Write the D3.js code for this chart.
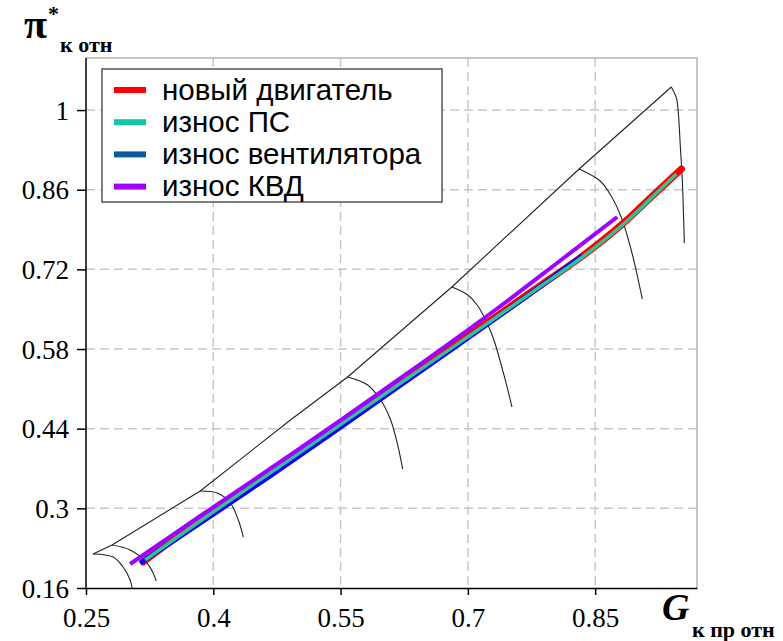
<!DOCTYPE html>
<html>
<head>
<meta charset="utf-8">
<script src="https://cdn.jsdelivr.net/npm/d3@7"></script>
<style>
  html, body { margin: 0; padding: 0; background: #fff; }
  svg { display: block; }
</style>
</head>
<body>
<svg id="chart" width="783" height="641"></svg>
<script>
// Axis ticks
const xTicks = [0.25, 0.4, 0.55, 0.7, 0.85];
const yTicks = [0.16, 0.3, 0.44, 0.58, 0.72, 0.86, 1];

// Compressor map: surge boundary
const surgeX = [0.2583, 0.2807, 0.3846, 0.4909, 0.5583, 0.6811, 0.8311, 0.9397];
const surgeY = [0.2198, 0.2356, 0.3305, 0.4553, 0.5308, 0.6890, 0.8964, 1.0405];

// Constant-speed lines
const speedLinesX = [
  [0.2583, 0.2819, 0.2937, 0.3020, 0.3043],
  [0.2807, 0.3020, 0.3220, 0.3291, 0.3327],
  [0.3846, 0.4047, 0.4201, 0.4295, 0.4354],
  [0.5583, 0.5819, 0.5972, 0.6090, 0.6173, 0.6232],
  [0.6811, 0.7000, 0.7118, 0.7236, 0.7307, 0.7425, 0.7520],
  [0.8311, 0.8559, 0.8689, 0.8807, 0.8925, 0.9008, 0.9055],
  [0.9397, 0.9457, 0.9480, 0.9504, 0.9527, 0.9539, 0.9551]
];
const speedLinesY = [
  [0.2198, 0.2145, 0.1969, 0.1741, 0.1600],
  [0.2356, 0.2268, 0.2039, 0.1864, 0.1723],
  [0.3305, 0.3270, 0.3094, 0.2795, 0.2496],
  [0.5308, 0.5168, 0.4904, 0.4553, 0.4113, 0.3691],
  [0.6890, 0.6749, 0.6556, 0.6222, 0.5959, 0.5344, 0.4781],
  [0.8964, 0.8753, 0.8489, 0.8120, 0.7540, 0.7013, 0.6679],
  [1.0405, 1.0212, 0.9948, 0.9350, 0.8771, 0.8243, 0.7663]
];

// Operating lines
const seriesNames = ["новый двигатель", "износ ПС", "износ вентилятора", "износ КВД"];
const newEngineX = [0.3173, 0.3846, 0.5028, 0.6209, 0.7390, 0.7862, 0.8335, 0.8807, 0.9161, 0.9516];
const newEngineY = [0.2057, 0.2795, 0.4008, 0.5220, 0.6433, 0.6925, 0.7417, 0.7980, 0.8472, 0.8964];
const wearPsX = [0.3197, 0.3846, 0.5028, 0.6209, 0.7390, 0.7862, 0.8335, 0.8807, 0.9161, 0.9457];
const wearPsY = [0.2092, 0.2778, 0.3990, 0.5203, 0.6416, 0.6908, 0.7400, 0.7962, 0.8454, 0.8876];
const wearFanX = [0.3138, 0.3846, 0.5028, 0.6209, 0.7484, 0.8346];
const wearFanY = [0.2039, 0.2742, 0.3937, 0.5168, 0.6503, 0.7435];
const wearHpcX = [0.3020, 0.3846, 0.5028, 0.6209, 0.7354, 0.8098, 0.8760];
const wearHpcY = [0.2022, 0.2865, 0.4061, 0.5291, 0.6521, 0.7365, 0.8120];

const lineColors = ["#ff0000", "#2ec49a", "#0000ff", "#a000ff"];
const legendColors = ["#ff0000", "#12c8a2", "#0b5aa0", "#a000ff"];
const lineWidths = [7, 3.5, 5, 4];

const svg = d3.select("#chart");
const plotLeft = 86, plotRight = 697, plotTop = 58, plotBottom = 588;

const x = d3.scaleLinear().domain([0.25, 0.97]).range([plotLeft, plotRight]);
const y = d3.scaleLinear().domain([0.16, 1.0915]).range([plotBottom, plotTop]);

// Grid
const grid = svg.append("g");
grid.selectAll("line.gy").data(yTicks.slice(1)).join("line")
  .attr("class", "gy")
  .attr("x1", plotLeft).attr("x2", plotRight)
  .attr("y1", d => y(d)).attr("y2", d => y(d))
  .attr("stroke", "#c8c8c8").attr("stroke-width", 1.5).attr("stroke-dasharray", "9,5");
grid.selectAll("line.gx").data(xTicks.slice(1)).join("line")
  .attr("class", "gx")
  .attr("y1", plotTop).attr("y2", plotBottom)
  .attr("x1", d => x(d)).attr("x2", d => x(d))
  .attr("stroke", "#c8c8c8").attr("stroke-width", 1.5).attr("stroke-dasharray", "9,5");

// Frame top and right
svg.append("path")
  .attr("d", `M${plotLeft},${plotTop}H${plotRight}V${plotBottom}`)
  .attr("fill", "none").attr("stroke", "#b4b4b4").attr("stroke-width", 1.5);

// Axes
const xAxis = d3.axisBottom(x).tickValues(xTicks).tickFormat(d => String(d)).tickSize(7).tickSizeOuter(0);
const yAxis = d3.axisLeft(y).tickValues(yTicks).tickFormat(d => String(d)).tickSize(9).tickSizeOuter(0);

const gx = svg.append("g").attr("transform", `translate(0,${plotBottom})`).call(xAxis);
const gy = svg.append("g").attr("transform", `translate(${plotLeft},0)`).call(yAxis);
[gx, gy].forEach(g => {
  g.select(".domain").attr("stroke", "#000").attr("stroke-width", 1.5);
  g.selectAll(".tick line").attr("stroke", "#000").attr("stroke-width", 1.5);
  g.selectAll(".tick text")
    .attr("font-family", "'Liberation Serif', 'Times New Roman', serif")
    .attr("font-size", 27).attr("fill", "#000");
});
gx.selectAll(".tick text").attr("dy", null).attr("y", 39);
gy.selectAll(".tick text").attr("x", -17).attr("dy", "0.34em");
gy.select(".domain").attr("d", `M0,${y(0.16)}V${plotTop}`);

// Compressor map lines
const mapLine = d3.line().x(d => x(d[0])).y(d => y(d[1]));
const mapG = svg.append("g").attr("fill", "none").attr("stroke", "#222").attr("stroke-width", 1.1);
mapG.append("path").attr("d", mapLine(d3.zip(surgeX, surgeY)));
const speedCurve = d3.line().x(d => x(d[0])).y(d => y(d[1])).curve(d3.curveCatmullRom.alpha(0.5));
speedLinesX.forEach((xs, i) => {
  mapG.append("path").attr("d", speedCurve(d3.zip(xs, speedLinesY[i])));
});

// Operating lines
const opLine = d3.line().x(d => x(d[0])).y(d => y(d[1])).curve(d3.curveCatmullRom.alpha(0.5));
const series = [
  d3.zip(newEngineX, newEngineY),
  d3.zip(wearPsX, wearPsY),
  d3.zip(wearFanX, wearFanY),
  d3.zip(wearHpcX, wearHpcY)
];
const drawOrder = [0, 2, 1, 3];
drawOrder.forEach(i => {
  svg.append("path")
    .attr("d", opLine(series[i]))
    .attr("fill", "none")
    .attr("stroke", lineColors[i])
    .attr("stroke-width", lineWidths[i])
    .attr("stroke-linecap", i === 0 ? "round" : "butt")
    .attr("stroke-linejoin", "round");
});

// Legend
const lg = svg.append("g");
lg.append("rect").attr("x", 102).attr("y", 69).attr("width", 340).attr("height", 133)
  .attr("fill", "#fff").attr("stroke", "#555").attr("stroke-width", 1.5);
seriesNames.forEach((name, i) => {
  const cy = 90 + i * 32.2;
  lg.append("line").attr("x1", 114).attr("x2", 146).attr("y1", cy).attr("y2", cy)
    .attr("stroke", legendColors[i]).attr("stroke-width", 6);
  lg.append("text").attr("x", 162).attr("y", cy).attr("dy", "0.33em")
    .attr("font-family", "'Liberation Sans', Arial, sans-serif")
    .attr("font-size", 29.5).attr("fill", "#000").text(name);
});

// Axis titles
const serif = "'Liberation Serif', 'Times New Roman', serif";
const yt = svg.append("text").attr("x", 24).attr("y", 38).attr("font-family", serif).attr("font-weight", "bold").attr("fill", "#000");
yt.append("tspan").attr("font-size", 42).text("π");
yt.append("tspan").attr("font-size", 22).attr("dy", -17).attr("dx", 1).text("*");
svg.append("text").attr("x", 60).attr("y", 52).attr("font-family", serif).attr("font-weight", "bold")
  .attr("font-size", 22).attr("fill", "#000").text("к отн");

svg.append("text").attr("x", 662).attr("y", 620).attr("font-family", serif).attr("font-weight", "bold")
  .attr("font-style", "italic").attr("font-size", 38).attr("fill", "#000").text("G");
svg.append("text").attr("x", 692).attr("y", 637).attr("font-family", serif).attr("font-weight", "bold")
  .attr("font-size", 22).attr("fill", "#000").text("к пр отн");
</script>
</body>
</html>
